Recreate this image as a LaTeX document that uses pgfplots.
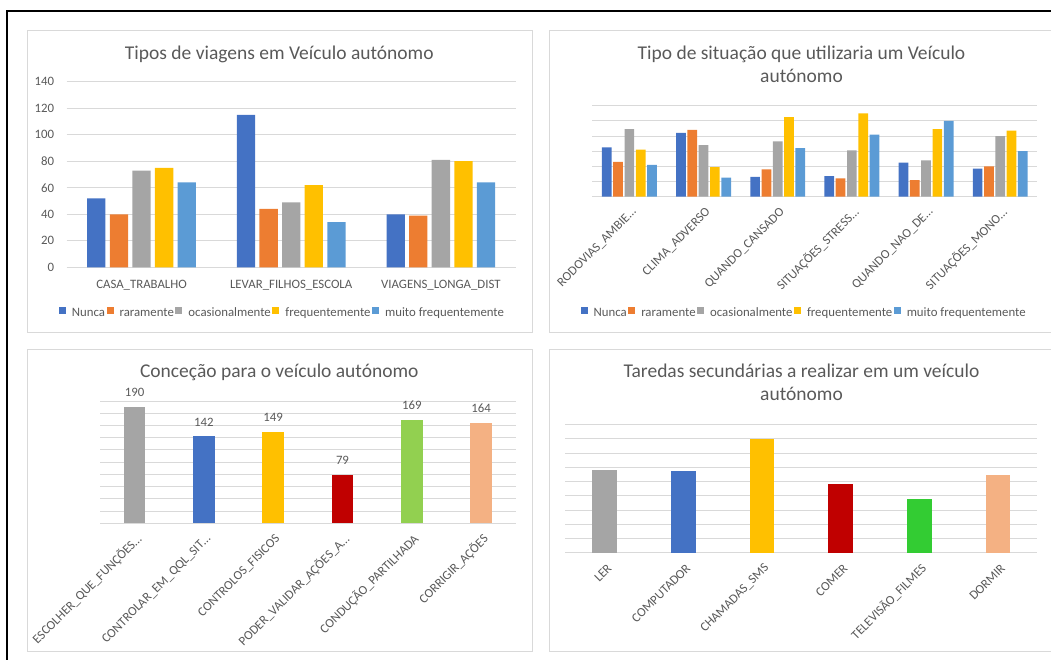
\documentclass[border=0pt]{standalone}
\usepackage{pgfplots}
\pgfplotsset{compat=1.18}
\usepackage{fontspec}
\setmainfont{Carlito}

\definecolor{cNunca}{HTML}{4472C4}
\definecolor{cRara}{HTML}{ED7D31}
\definecolor{cOcas}{HTML}{A5A5A5}
\definecolor{cFreq}{HTML}{FFC000}
\definecolor{cMuito}{HTML}{5B9BD5}
\definecolor{cRed}{HTML}{C00000}
\definecolor{cGreenA}{HTML}{92D050}
\definecolor{cGreenB}{HTML}{33CC33}
\definecolor{cSalmon}{HTML}{F4B183}
\definecolor{txt}{HTML}{595959}
\definecolor{gridgray}{HTML}{D9D9D9}

\newcommand{\labfont}{\fontsize{12.8}{15}\selectfont}
\newcommand{\titfont}{\fontsize{19.5}{23}\selectfont}

\pgfplotsset{
  panel/.style={
    scale only axis,
    anchor=south west,
    axis line style={draw=none},
    major tick length=0pt,
    ymajorgrids,
    grid style={draw=gridgray, line width=0.9pt},
    ymin=0,
    enlargelimits=false,
    tick label style={font=\labfont, color=txt},
    /pgf/number format/assume math mode=true,
    yticklabel style={anchor=east, inner sep=0pt, xshift=-12.4pt},
  },
  rotlabels/.style={
    xticklabel style={anchor=east, inner sep=0pt, xshift=5pt, yshift=-13.5pt, rotate=45},
  },
  keylegend/.style={
    legend columns=-1,
    legend style={draw=none, fill=none, font=\labfont, text=txt,
      inner sep=0pt, nodes={inner sep=1.5pt},
      /tikz/every odd column/.append style={column sep=4.5pt}},
    legend image code/.code={\fill[##1] (0pt,-2.3pt) rectangle (7pt,4.7pt);},
  },
}

\begin{document}
\begin{tikzpicture}[x=1pt,y=1pt]
\path[use as bounding box, clip] (0,0) rectangle (1051,660);

% panel frames
\draw[gridgray, line width=0.9pt] (27,630) rectangle (532,328);
\draw[gridgray, line width=0.9pt] (549,630) rectangle (1054,328);
\draw[gridgray, line width=0.9pt] (27,311) rectangle (532,9);
\draw[gridgray, line width=0.9pt] (549,311) rectangle (1054,9);

% titles
\node[anchor=base, font=\titfont, text=txt] at (279.3,600.7) {Tipos de viagens em Veículo autónomo};
\node[anchor=base, font=\titfont, text=txt] at (801.5,600.7) {Tipo de situação que utilizaria um Veículo};
\node[anchor=base, font=\titfont, text=txt] at (801.5,577.3) {autónomo};
\node[anchor=base, font=\titfont, text=txt] at (279.3,282.3) {Conceção para o veículo autónomo};
\node[anchor=base, font=\titfont, text=txt] at (801.5,282.3) {Taredas secundárias a realizar em um veículo};
\node[anchor=base, font=\titfont, text=txt] at (801.5,259.0) {autónomo};

% --- Tipos de viagens ---
\begin{axis}[panel,
  at={(66.7pt,392.7pt)}, width=449pt, height=185.6pt,
  ybar=4.3pt, bar width=18.3pt,
  xmin=-0.5, xmax=2.5, ymax=140, ytick={0,20,...,140},
  xtick={0,1,2},
  xticklabels={CASA\_TRABALHO, LEVAR\_FILHOS\_ESCOLA, VIAGENS\_LONGA\_DIST},
  xticklabel style={anchor=north, inner sep=0pt, yshift=-12.9pt},
  keylegend,
  legend style={at={(0.480,-0.2392)}, anchor=center},
]
\addplot[fill=cNunca, draw=none] coordinates {(0,52) (1,115) (2,40)};
\addplot[fill=cRara, draw=none] coordinates {(0,40) (1,44) (2,39)};
\addplot[fill=cOcas, draw=none] coordinates {(0,73) (1,49) (2,81)};
\addplot[fill=cFreq, draw=none] coordinates {(0,75) (1,62) (2,80)};
\addplot[fill=cMuito, draw=none] coordinates {(0,64) (1,34) (2,64)};
\legend{\strut Nunca, \strut raramente, \strut ocasionalmente, \strut frequentemente, \strut muito frequentemente}
\end{axis}

% --- Tipo de situação ---
\begin{axis}[panel, rotlabels,
  at={(592.3pt,463.3pt)}, width=445pt, height=91pt,
  ybar=1.6pt, bar width=9.7pt,
  xmin=-0.5, xmax=5.5, ymax=120, ytick={0,20,...,120}, yticklabel=\empty,
  xtick={0,...,5},
  xticklabels={RODOVIAS\_AMBIE…, CLIMA\_ADVERSO, QUANDO\_CANSADO, SITUAÇÕES\_STRESS…, QUANDO\_NAO\_DE…, SITUAÇÕES\_MONO…},
  keylegend,
  legend style={at={(0.4755,-1.2637)}, anchor=center},
]
\addplot[fill=cNunca, draw=none] coordinates {(0,65) (1,84) (2,26) (3,27) (4,45) (5,37)};
\addplot[fill=cRara, draw=none] coordinates {(0,46) (1,88) (2,36) (3,24) (4,22) (5,40)};
\addplot[fill=cOcas, draw=none] coordinates {(0,89) (1,68) (2,73) (3,61) (4,48) (5,80)};
\addplot[fill=cFreq, draw=none] coordinates {(0,62) (1,39) (2,105) (3,110) (4,89) (5,87)};
\addplot[fill=cMuito, draw=none] coordinates {(0,42) (1,25) (2,64) (3,82) (4,100) (5,60)};
\legend{\strut Nunca, \strut raramente, \strut ocasionalmente, \strut frequentemente, \strut muito frequentemente}
\end{axis}

% --- Conceção ---
\begin{axis}[panel, rotlabels,
  at={(100pt,136.7pt)}, width=415.7pt, height=122.3pt,
  ybar, bar width=21.7pt, clip=false,
  xmin=-0.5, xmax=5.5, ymax=200, ytick={0,20,...,200}, yticklabel=\empty,
  xtick={0,...,5},
  xticklabels={ESCOLHER\_QUE\_FUNÇÕES…, CONTROLAR\_EM\_QQL\_SIT…, CONTROLOS\_FISICOS, PODER\_VALIDAR\_AÇÕES\_A…, CONDUÇÃO\_PARTILHADA, CORRIGIR\_AÇÕES},
  nodes near coords,
  nodes near coords style={font=\labfont, text=txt, anchor=south, inner sep=0pt, yshift=10pt},
]
\addplot[fill=cOcas, draw=none, bar shift=0pt] coordinates {(0,190)};
\addplot[fill=cNunca, draw=none, bar shift=0pt] coordinates {(1,142)};
\addplot[fill=cFreq, draw=none, bar shift=0pt] coordinates {(2,149)};
\addplot[fill=cRed, draw=none, bar shift=0pt] coordinates {(3,79)};
\addplot[fill=cGreenA, draw=none, bar shift=0pt] coordinates {(4,169)};
\addplot[fill=cSalmon, draw=none, bar shift=0pt] coordinates {(5,164)};
\end{axis}

% --- Tarefas secundárias ---
\begin{axis}[panel, rotlabels,
  at={(565.3pt,107.3pt)}, width=472pt, height=128pt,
  ybar, bar width=24.4pt,
  xmin=-0.5, xmax=5.5, ymax=180, ytick={0,20,...,180}, yticklabel=\empty,
  xtick={0,...,5},
  xticklabels={LER, COMPUTADOR, CHAMADAS\_SMS, COMER, TELEVISÃO\_FILMES, DORMIR},
]
\addplot[fill=cOcas, draw=none, bar shift=0pt] coordinates {(0,116)};
\addplot[fill=cNunca, draw=none, bar shift=0pt] coordinates {(1,115)};
\addplot[fill=cFreq, draw=none, bar shift=0pt] coordinates {(2,160)};
\addplot[fill=cRed, draw=none, bar shift=0pt] coordinates {(3,96)};
\addplot[fill=cGreenB, draw=none, bar shift=0pt] coordinates {(4,76)};
\addplot[fill=cSalmon, draw=none, bar shift=0pt] coordinates {(5,109)};
\end{axis}

% outer frame
\draw[black, line width=2pt] (7,-5) -- (7,649) -- (1060,649);
\end{tikzpicture}
\end{document}
